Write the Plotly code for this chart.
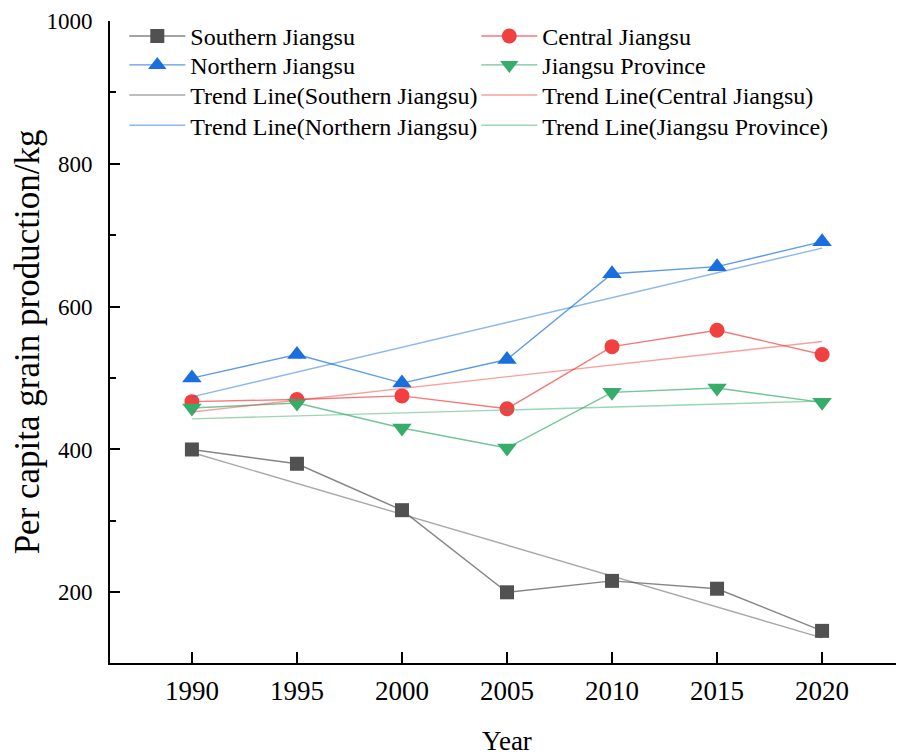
import numpy as np
import plotly.graph_objects as go

years = [1990, 1995, 2000, 2005, 2010, 2015, 2020]
southern = [400, 380, 315, 200, 216, 205, 146]
central = [467, 470, 475, 457, 544, 567, 533]
northern = [500, 533, 493, 526, 646, 656, 691]
province = [458, 465, 430, 402, 480, 486, 466]

names = ["Southern Jiangsu", "Central Jiangsu", "Northern Jiangsu", "Jiangsu Province"]
series = [southern, central, northern, province]
colors = [(81, 81, 81), (241, 64, 64), (26, 111, 223), (55, 173, 107)]
symbols = ["square", "circle", "triangle-up", "triangle-down"]
sizes = [14, 15, 17, 17]

FONT = "Liberation Serif, Times New Roman, serif"

# two entries per legend row: each row is its own legend so row spacing can match
data_rows = ["legend", "legend", "legend2", "legend2"]
trend_rows = ["legend3", "legend3", "legend4", "legend4"]

fig = go.Figure()
for name, vals, c, sym, sz, lg in zip(names, series, colors, symbols, sizes, data_rows):
    fig.add_trace(go.Scatter(
        x=years, y=vals, name=name, mode="lines+markers", legend=lg,
        line=dict(color="rgba(%d,%d,%d,0.7)" % c, width=1.4),
        marker=dict(symbol=sym, size=sz, color="rgb(%d,%d,%d)" % c, line=dict(width=0)),
    ))

for name, vals, c, lg in zip(names, series, colors, trend_rows):
    k, b = np.polyfit(years, vals, 1)
    xs = [years[0], years[-1]]
    ys = [k * xs[0] + b, k * xs[1] + b]
    fig.add_trace(go.Scatter(
        x=xs, y=ys, name="Trend Line(%s)" % name, mode="lines", legend=lg,
        line=dict(color="rgba(%d,%d,%d,0.5)" % c, width=1.4),
    ))

def legend_row(ypos):
    return dict(
        orientation="h", x=0.018, y=ypos, xanchor="left", yanchor="middle",
        entrywidth=281, entrywidthmode="pixels", itemwidth=56,
        font=dict(family=FONT, size=24, color="black"),
        bgcolor="rgba(0,0,0,0)",
    )

# page body has an 8px margin, so the figure is offset by 8px
fig.update_layout(
    width=896, height=748,
    margin=dict(l=102, r=0, t=13, b=93, autoexpand=False),
    paper_bgcolor="white", plot_bgcolor="white",
    font=dict(family=FONT, color="black"),
    showlegend=True,
    legend=legend_row(0.976),
    legend2=legend_row(0.931),
    legend3=legend_row(0.884),
    legend4=legend_row(0.837),
)

fig.update_xaxes(
    range=[1986.1, 2023.9], tickvals=years,
    ticks="inside", ticklen=11, tickwidth=1.5, tickcolor="black",
    showline=True, linewidth=2, linecolor="black", mirror=False,
    showgrid=False, zeroline=False,
    tickfont=dict(family=FONT, size=27),
    ticklabelstandoff=3,
    title=dict(text="Year", font=dict(family=FONT, size=27), standoff=36),
)
fig.update_yaxes(
    range=[101, 1000], tick0=200, dtick=200,
    ticks="inside", ticklen=10, tickwidth=1.5, tickcolor="black",
    minor=dict(ticks="inside", ticklen=6, dtick=100, tick0=100, tickcolor="black", tickwidth=1.5),
    showline=True, linewidth=2, linecolor="black", mirror=False,
    showgrid=False, zeroline=False,
    tickfont=dict(family=FONT, size=23),
    ticklabelstandoff=11,
    title=dict(text="Per capita grain production/kg", font=dict(family=FONT, size=35), standoff=0),
)

fig.write_html("out.html")
